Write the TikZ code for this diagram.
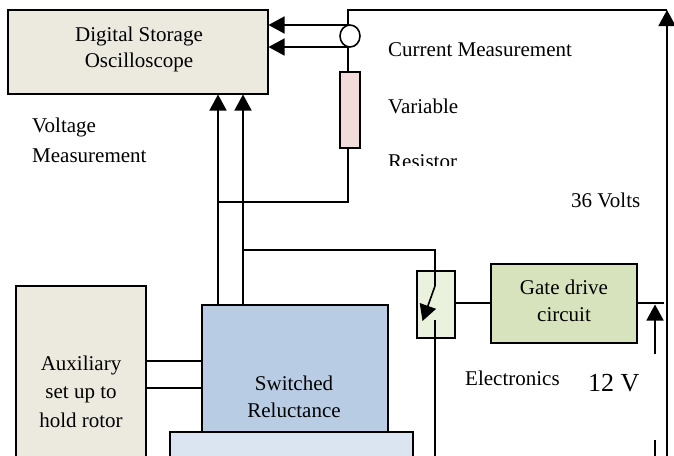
\documentclass[tikz,border=0pt]{standalone}
\usepackage{fontspec}
\setmainfont{Liberation Serif}
\usetikzlibrary{arrows.meta,shapes.geometric,calc}
\definecolor{cream}{HTML}{ECEADF}
\definecolor{pinkish}{HTML}{F2DCDB}
\definecolor{srblue}{HTML}{B8CCE4}
\definecolor{paleblue}{HTML}{DBE5F1}
\definecolor{palegreen}{HTML}{EAF1DD}
\definecolor{gategreen}{HTML}{D7E3BC}
\tikzset{
  box/.style={draw=black,line width=1.6pt,rectangle,inner sep=0pt},
  wire/.style={draw=black,line width=1.6pt},
  arr/.style={wire,-{Triangle[length=16pt,width=17pt]}},
  lab/.style={inner sep=0pt,anchor=base west,font=\fontsize{21pt}{24pt}\selectfont},
  ctr/.style={inner sep=0pt,anchor=base,font=\fontsize{21pt}{24pt}\selectfont}
}
\begin{document}
\begin{tikzpicture}[x=1pt,y=-1pt]
\useasboundingbox (0,0) rectangle (674,455);
\begin{scope}
\clip (0,0) rectangle (674,455);
% boxes
\node[box,fill=cream,minimum width=260pt,minimum height=84pt] (dso) at (138,52) {};
\node[box,fill=pinkish,minimum width=20pt,minimum height=76pt] (res) at (350,110) {};
\node[box,fill=srblue,minimum width=186pt,minimum height=127pt] (sr) at (295,368.5) {};
\node[box,fill=paleblue,minimum width=243pt,minimum height=60pt] (base) at (291.5,462) {};
\node[box,fill=cream,minimum width=130pt,minimum height=200pt] (aux) at (81,386) {};
\node[box,fill=palegreen,minimum width=38pt,minimum height=67pt] (sw) at (436,304.5) {};
\node[box,fill=gategreen,minimum width=146pt,minimum height=79pt] (gate) at (564,303.5) {};
% named connection points
\coordinate (top) at (348,10);
\coordinate (corner) at (667,10);
\coordinate (rbot) at (667,470);
\coordinate (a1) at (268.5,25);
\coordinate (c1) at (348,25);
\coordinate (a2) at (268.5,47);
\coordinate (c2) at (348,47);
\coordinate (v1t) at (218,94.5);
\coordinate (v2t) at (243,94.5);
\coordinate (v1b) at (218,305);
\coordinate (v2b) at (243,305);
\coordinate (j) at (218,202);
\coordinate (jr) at (348,202);
\coordinate (w1) at (243,250);
\coordinate (w2) at (435,250);
\coordinate (swtop) at (435,286);
\coordinate (swtip) at (422.5,321);
\coordinate (swbot) at (435,320);
\coordinate (swend) at (435,470);
\coordinate (gl) at (455,303);
\coordinate (gm) at (491,303);
\coordinate (gn) at (637,303);
\coordinate (gr) at (664,303);
\coordinate (v12t) at (655,304.5);
\coordinate (v12b) at (655,354);
\coordinate (v12c) at (655,440);
\coordinate (v12d) at (655,470);
\coordinate (h1a) at (146,361);
\coordinate (h1b) at (202,361);
\coordinate (h2a) at (146,388);
\coordinate (h2b) at (202,388);
% connectors
\draw[wire] (res.south -| jr) -- (jr) -- (j);
\draw[wire] (c2) -- (res.north -| c2);
\draw[arr] (c1) -- (a1);
\draw[arr] (c2) -- (a2);
\draw[wire] (c1) -- (top) -- (corner);
\draw[arr] (rbot) -- (corner);
\draw[arr] (v1b) -- (v1t);
\draw[arr] (v2b) -- (v2t);
\draw[wire] (w1) -- (w2) -- (swtop);
\draw[arr] (swtop) -- (swtip);
\draw[wire] (swbot) -- (swend);
\draw[wire] (gl) -- (gm);
\draw[wire] (gn) -- (gr);
\draw[arr] (v12b) -- (v12t);
\draw[wire] (v12c) -- (v12d);
\draw[wire] (h1a) -- (h1b);
\draw[wire] (h2a) -- (h2b);
% current sensor
\node[draw=black,line width=1.6pt,ellipse,minimum width=20pt,minimum height=22pt,inner sep=0pt,fill=white] (cs) at (350,36) {};
% texts
\node[ctr] (t1) at (139,41) {Digital Storage};
\node[ctr] (t2) at (139,67) {Oscilloscope};
\node[lab] (t3) at (388,56.5) {Current Measurement};
\node[lab] (t4) at (388,113) {Variable};
\begin{scope}
\clip (380,150) rectangle (470,165.5);
\node[lab] (t5) at (388,168) {Resistor};
\end{scope}
\node[lab] (t6) at (32,132) {Voltage};
\node[lab] (t7) at (32,162) {Measurement};
\node[lab] (t8) at (571,207) {36 Volts};
\node[lab] (t9) at (465,385) {Electronics};
\node[lab,font=\fontsize{26pt}{28pt}\selectfont] (t10) at (588,391) {12 V};
\node[ctr] (t11) at (294,390) {Switched};
\node[ctr] (t12) at (294,417) {Reluctance};
\node[ctr] (t13) at (564,294) {Gate drive};
\node[ctr] (t14) at (564,321) {circuit};
\node[ctr] (t15) at (81,370) {Auxiliary};
\node[ctr] (t16) at (81,398) {set up to};
\node[ctr] (t17) at (81,427) {hold rotor};
\end{scope}
\end{tikzpicture}
\end{document}
